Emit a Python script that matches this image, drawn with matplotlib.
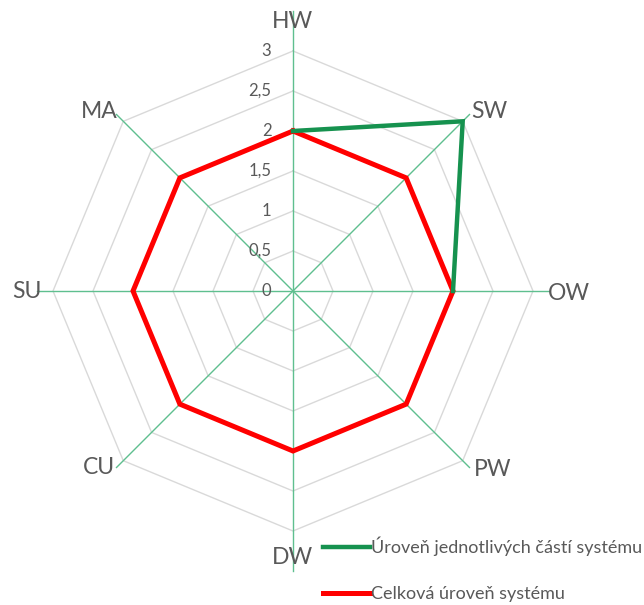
import numpy as np
import matplotlib
matplotlib.use("Agg")
import matplotlib.pyplot as plt
from matplotlib.lines import Line2D

plt.rcParams['font.family'] = ['Lato', 'DejaVu Sans']

# Axes of the radar, clockwise from the top
categories = ["HW", "SW", "OW", "PW", "DW", "CU", "SU", "MA"]
# Level of the individual system parts (only HW, SW, OW assessed)
parts_level = [2, 3, 2, np.nan, np.nan, np.nan, np.nan, np.nan]
# Overall system level
total_level = [2, 2, 2, 2, 2, 2, 2, 2]
ring_values = [0.5, 1, 1.5, 2, 2.5, 3]
tick_labels = ["0", "0,5", "1", "1,5", "2", "2,5", "3"]
series_names = ["Úroveň jednotlivých částí systému", "Celková úroveň systému"]

W, H = 644, 605
cx, cy = 293, 291          # centre in pixels
scale = 80.0               # pixels per unit

fig = plt.figure(figsize=(W / 100, H / 100), dpi=100)
ax = fig.add_axes([0, 0, 1, 1])
ax.set_xlim(-cx / scale, (W - cx) / scale)
ax.set_ylim(-(H - cy) / scale, cy / scale)
ax.axis("off")

n = len(categories)
angles = np.deg2rad(90 - 360 / n * np.arange(n))
ca, sa = np.cos(angles), np.sin(angles)

grid_col = "#d9d9d9"
spoke_col = "#5fbf8f"
text_col = "#595959"

# octagonal grid rings
for r in ring_values:
    xs = np.append(r * ca, r * ca[0])
    ys = np.append(r * sa, r * sa[0])
    ax.plot(xs, ys, color=grid_col, lw=1.0, zorder=1)

# spokes (they run past the outer ring up to the labels)
spoke_len = [3.5, 3.12, 3.2, 3.12, 3.5, 3.12, 3.2, 3.12]
for i in range(n):
    ax.plot([0, spoke_len[i] * ca[i]], [0, spoke_len[i] * sa[i]],
            color=spoke_col, lw=1.0, zorder=2)

# radial tick labels
for k, lab in enumerate(tick_labels):
    ax.text(-0.27, k * 0.5, lab, ha="right", va="center",
            fontsize=12, color=text_col, zorder=3)

# category labels
label_pos = {
    "HW": (293, 22), "SW": (489, 112), "OW": (569, 293), "PW": (493, 470),
    "DW": (293, 558), "CU": (99, 467), "SU": (27, 291), "MA": (99, 112),
}
for c in categories:
    px, py = label_pos[c]
    ax.text((px - cx) / scale, (cy - py) / scale, c, ha="center", va="center",
            fontsize=16.5, color=text_col, zorder=3)

green = "#16924f"
red = "#ff0000"


def closed(vals):
    v = np.asarray(vals, dtype=float)
    xs = np.append(v * ca, v[0] * ca[0])
    ys = np.append(v * sa, v[0] * sa[0])
    return xs, ys


gx, gy = closed(parts_level)
ax.plot(gx, gy, color=green, lw=3.2, solid_joinstyle="miter", zorder=5)
rx, ry = closed(total_level)
ax.plot(rx, ry, color=red, lw=3.6, solid_joinstyle="miter", zorder=4)

handles = [Line2D([], [], color=green, lw=3.2),
           Line2D([], [], color=red, lw=3.6)]
fig.legend(handles, series_names, loc="upper left",
           bbox_to_anchor=(323 / W, 1 - 537 / H), frameon=False,
           fontsize=13, handlelength=2.6, handletextpad=0.05,
           labelspacing=1.65, borderpad=0, borderaxespad=0,
           labelcolor=text_col)

fig.savefig("out.png", dpi=100)
